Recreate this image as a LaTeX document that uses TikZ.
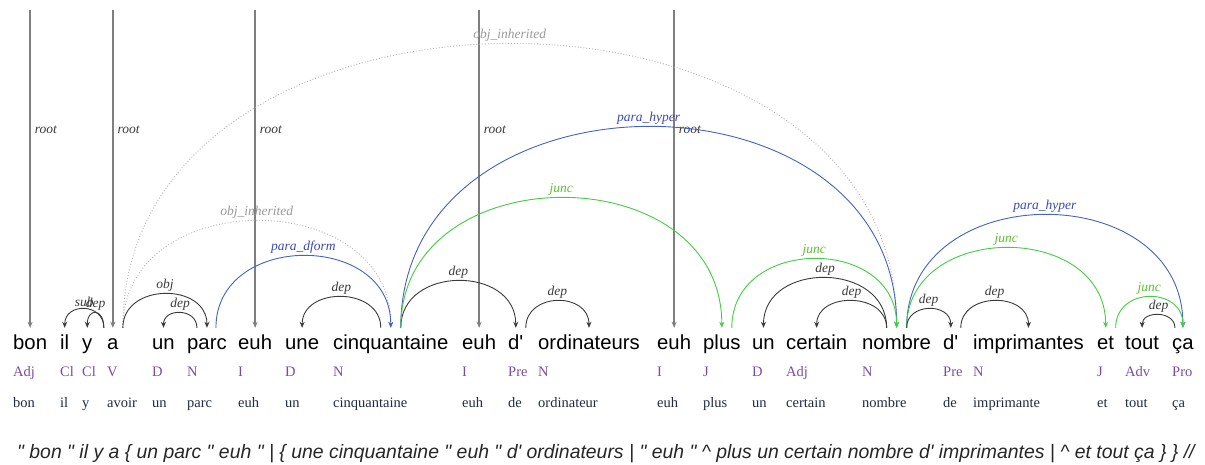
\documentclass[tikz,border=0pt]{standalone}
\usepackage{fontspec}
\usepackage{xcolor}
\usepackage{tikz}
\usetikzlibrary{arrows.meta,positioning}
\newfontfamily\wordfont{Liberation Sans}
\newfontfamily\tagfont{Liberation Serif}
\definecolor{depc}{HTML}{3A3A3A}
\definecolor{rootc}{HTML}{7F7F7F}
\definecolor{parac}{HTML}{4461C4}
\definecolor{paratextc}{HTML}{3848B8}
\definecolor{juncc}{HTML}{3FCF3F}
\definecolor{junctextc}{HTML}{5CC030}
\definecolor{inhc}{HTML}{B0B0B0}
\definecolor{posc}{HTML}{7B4AA8}
\definecolor{lemmac}{HTML}{1F2A44}
\tikzset{
  wordnode/.style={font=\wordfont\fontsize{20.3}{24}\selectfont, inner sep=0pt,
    text height=21pt, text depth=5pt, anchor=base west},
  posnode/.style={font=\tagfont\fontsize{14.5}{16}\selectfont, text=posc,
    inner sep=0pt, anchor=base west},
  lemmanode/.style={font=\tagfont\fontsize{14.5}{16}\selectfont, text=lemmac,
    inner sep=0pt, anchor=base west},
  sentnode/.style={font=\wordfont\itshape\fontsize{19.4}{22}\selectfont, text=black!85,
    inner sep=0pt, anchor=base west},
  arclabel/.style={font=\tagfont\itshape\fontsize{13.5}{15}\selectfont, text=depc,
    above, inner sep=1.5pt},
  paralabel/.style={arclabel, text=paratextc},
  junclabel/.style={arclabel, text=junctextc},
  inhlabel/.style={arclabel, text=black!40},
  rootlabel/.style={arclabel, anchor=west, inner sep=0pt, xshift=4pt},
  depedge/.style={-{Stealth[length=6pt,width=5pt]}, draw=depc, line width=0.9pt},
  rootedge/.style={-{Stealth[length=6pt,width=5pt]}, draw=rootc, line width=1.5pt},
  paraedge/.style={depedge, draw=parac},
  juncedge/.style={depedge, draw=juncc},
  inhedge/.style={depedge, draw=inhc, dotted},
  arcup/.style={to path={.. controls ([yshift=#1*4/3]\tikztostart)
    and ([yshift=#1*4/3]\tikztotarget) .. (\tikztotarget) \tikztonodes}},
}

\begin{document}
\begin{tikzpicture}[x=1pt, y=-1pt]
  \useasboundingbox (0,0) rectangle (1205,465);

  % words
  \node[wordnode] (bon) at (13,349) {bon};
  \node[wordnode] (il) at (60,349) {il};
  \node[wordnode] (y) at (82,349) {y};
  \node[wordnode] (a) at (107,349) {a};
  \node[wordnode] (un) at (152,349) {un};
  \node[wordnode] (parc) at (187,349) {parc};
  \node[wordnode] (euh) at (238,349) {euh};
  \node[wordnode] (une) at (285,349) {une};
  \node[wordnode] (cinq) at (333,349) {cinquantaine};
  \node[wordnode] (euhb) at (462,349) {euh};
  \node[wordnode] (de) at (508,349) {d\textquotesingle};
  \node[wordnode] (ord) at (538,349) {ordinateurs};
  \node[wordnode] (euhc) at (657,349) {euh};
  \node[wordnode] (plus) at (703,349) {plus};
  \node[wordnode] (unb) at (752,349) {un};
  \node[wordnode] (certain) at (786,349) {certain};
  \node[wordnode] (nombre) at (862,349) {nombre};
  \node[wordnode] (deb) at (943,349) {d\textquotesingle};
  \node[wordnode] (impr) at (973,349) {imprimantes};
  \node[wordnode] (et) at (1097,349) {et};
  \node[wordnode] (tout) at (1125,349) {tout};
  \node[wordnode] (ca) at (1172,349) {ça};

  % tags and lemmas
  \foreach \w/\p/\l in {bon/Adj/bon, il/Cl/il, y/Cl/y, a/V/avoir, un/D/un,
      parc/N/parc, euh/I/euh, une/D/un, cinq/N/cinquantaine, euhb/I/euh,
      de/Pre/de, ord/N/ordinateur, euhc/I/euh, plus/J/plus, unb/D/un,
      certain/Adj/certain, nombre/N/nombre, deb/Pre/de, impr/N/imprimante,
      et/J/et, tout/Adv/tout, ca/Pro/ça} {
    \node[posnode] (\w-pos) at ([yshift=-27pt]\w.base west) {\p};
    \node[lemmanode] (\w-lem) at ([yshift=-58pt]\w.base west) {\l};
  }

  % roots
  \foreach \w in {bon, a, euh, euhb, euhc} {
    \coordinate (\w-top) at (\w.north |- 0,10);
    \draw[rootedge] (\w-top) -- node[rootlabel, pos=0.376] {root} (\w.north);
  }

  % inherited
  \draw[inhedge] ([xshift=10pt]a.north) to[arcup=284] node[inhlabel] {obj\_inherited} (nombre.north);
  \draw[inhedge] ([xshift=10pt]a.north) to[arcup=107] node[inhlabel] {obj\_inherited} (cinq.north);

  % dependencies
  \draw[depedge] ([xshift=-9pt]a.north) to[arcup=19] node[arclabel] {sub} (il.north);
  \draw[depedge] ([xshift=-9pt]a.north) to[arcup=15] node[arclabel] {dep} (y.north);
  \draw[depedge] ([xshift=10pt]a.north) to[arcup=34] node[arclabel] {obj} (parc.north);
  \draw[depedge] ([xshift=-10pt]parc.north) to[arcup=15] node[arclabel] {dep} (un.north);
  \draw[paraedge] ([xshift=9pt]parc.north) to[arcup=72] node[paralabel] {para\_dform} (cinq.north);
  \draw[depedge] ([xshift=-10pt]cinq.north) to[arcup=31] node[arclabel] {dep} (une.north);
  \draw[depedge] ([xshift=10pt]cinq.north) to[arcup=47] node[arclabel] {dep} (de.north);
  \draw[paraedge] ([xshift=10pt]cinq.north) to[arcup=201] node[paralabel] {para\_hyper} (nombre.north);
  \draw[juncedge] ([xshift=10pt]cinq.north) to[arcup=130] node[junclabel] {junc} (plus.north);
  \draw[depedge] ([xshift=10pt]de.north) to[arcup=27] node[arclabel] {dep} (ord.north);
  \draw[juncedge] ([xshift=10pt]plus.north) to[arcup=69] node[junclabel] {junc} (nombre.north);
  \draw[depedge] ([xshift=-10pt]nombre.north) to[arcup=50] node[arclabel] {dep} (unb.north);
  \draw[depedge] ([xshift=-10pt]nombre.north) to[arcup=27] node[arclabel] {dep} (certain.north);
  \draw[paraedge] ([xshift=10pt]nombre.north) to[arcup=113] node[paralabel] {para\_hyper} (ca.north);
  \draw[juncedge] ([xshift=10pt]nombre.north) to[arcup=80] node[junclabel] {junc} (et.north);
  \draw[depedge] ([xshift=10pt]nombre.north) to[arcup=19] node[arclabel] {dep} (deb.north);
  \draw[depedge] ([xshift=10pt]deb.north) to[arcup=27] node[arclabel] {dep} (impr.north);
  \draw[juncedge] ([xshift=10pt]et.north) to[arcup=31] node[junclabel] {junc} (ca.north);
  \draw[depedge] ([xshift=-8pt]ca.north) to[arcup=13] node[arclabel] {dep} (tout.north);

  % sentence
  \node[sentnode] (sent) at (17,458) {" bon " il y a \{ un parc " euh " | \{ une cinquantaine " euh " d\textquotesingle{} ordinateurs | " euh " \textasciicircum{} plus un certain nombre d\textquotesingle{} imprimantes | \textasciicircum{} et tout ça \} \} //};
\end{tikzpicture}
\end{document}
